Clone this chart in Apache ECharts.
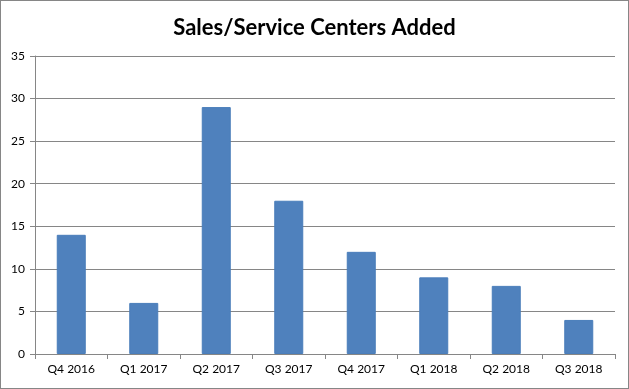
<!DOCTYPE html>
<html><head><meta charset="utf-8">
<script src="https://cdn.jsdelivr.net/npm/echarts@6/dist/echarts.min.js"></script>
<style>html,body{margin:0;padding:0;background:#fff}#c{width:629px;height:389px;box-sizing:border-box;border:1px solid #868686}</style>
</head><body><div id="c"></div>
<script>
const categories = ['Q4 2016','Q1 2017','Q2 2017','Q3 2017','Q4 2017','Q1 2018','Q2 2018','Q3 2018'];
const values = [14, 6, 29, 18, 12, 9, 8, 4];
const titleText = 'Sales/Service Centers Added';
const chart = echarts.init(document.getElementById('c'));
chart.setOption({
  animation:false,
  title:{text:titleText,left:'center',top:11,textStyle:{fontFamily:'Lato',fontSize:22,fontWeight:'bold',color:'#000'}},
  grid:{left:34,right:13,top:55,bottom:34,containLabel:false},
  xAxis:{type:'category',data:categories,boundaryGap:true,
    axisLine:{lineStyle:{color:'#868686'}},
    axisTick:{show:true,alignWithLabel:false,length:5,lineStyle:{color:'#868686'}},
    axisLabel:{color:'#000',fontFamily:'Lato',fontSize:12,margin:9}},
  yAxis:{type:'value',min:0,max:35,interval:5,
    axisLine:{show:true,lineStyle:{color:'#868686'}},
    axisTick:{show:true,length:5,lineStyle:{color:'#868686'}},
    axisLabel:{color:'#000',fontFamily:'Lato',fontSize:12,margin:10},
    splitLine:{lineStyle:{color:'#868686'}}},
  series:[{type:'bar',data:values,barWidth:'40%',itemStyle:{color:'#4F81BD',borderColor:'#4A7EBB',borderWidth:1}}]
});
</script></body></html>
